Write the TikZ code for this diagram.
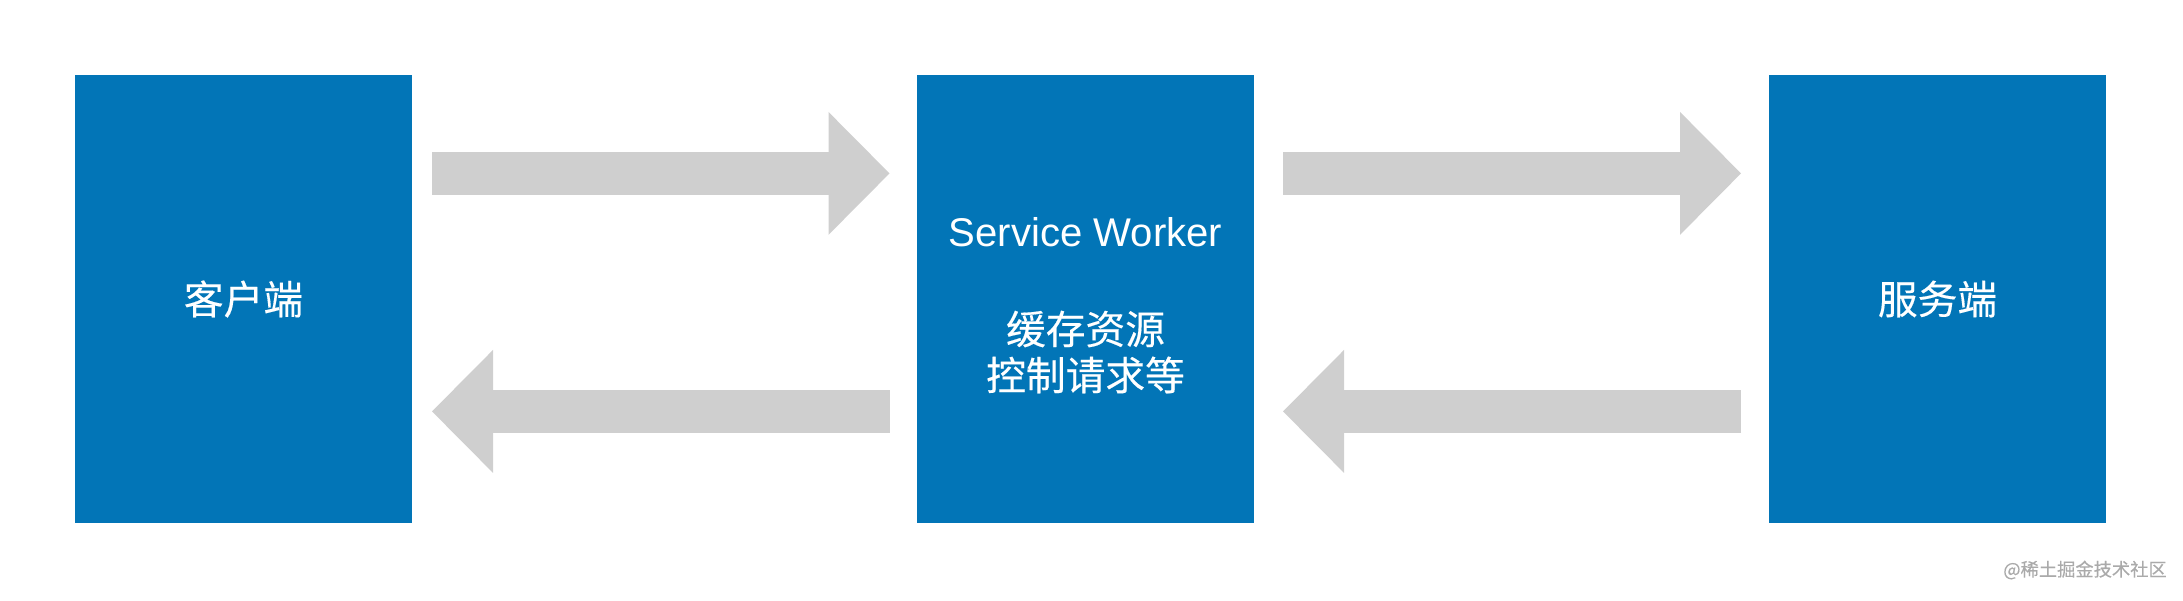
\documentclass[tikz,border=0pt]{standalone}
\usepackage{fontspec}
\setmainfont{Liberation Sans}
\newfontfamily\cjk[FakeBold=0.3]{Noto Sans CJK SC}
\usepackage{tikz}
\usetikzlibrary{arrows.meta,calc,positioning}
\definecolor{boxblue}{RGB}{2,117,183}
\definecolor{arrowgray}{RGB}{207,207,207}
\definecolor{markgray}{RGB}{170,170,170}

\begin{document}
\begin{tikzpicture}[
  block/.style={fill=boxblue, minimum width=3.37cm, minimum height=4.48cm, inner sep=0pt, outer sep=0pt, text=white, font=\cjk\fontsize{11.3}{13.5}\selectfont},
  flow/.style={draw=arrowgray, line width=4.24mm, -{Triangle[length=6.1mm,width=12.25mm,line width=0.6pt]}},
  txt/.style={text=white, inner sep=0pt}
]
\useasboundingbox (0,0) rectangle (21.83,6);
\node[block] (client) at (2.435,3.01) {\raisebox{-0.5mm}{客户端}};
\node[block, right=5.05cm of client] (sw) {};
\node[block, right=5.15cm of sw] (server) {\raisebox{-0.5mm}{服务端}};
\node[txt, anchor=base, font=\fontsize{11.4}{13}\selectfont] (swname) at ($(sw.center)+(0,0.53)$) {Service Worker};
\node[txt, font=\cjk\fontsize{11.3}{13}\selectfont] (swjob1) at ($(sw.center)+(0,-0.30)$) {缓存资源};
\node[txt, font=\cjk\fontsize{11.3}{13}\selectfont] (swjob2) at ($(sw.center)+(0,-0.76)$) {控制请求等};
\draw[flow] ($(client.east)+(0.2,1.256)$) -- ($(sw.west)+(-0.275,1.256)$);
\draw[flow] ($(sw.west)+(-0.275,-1.124)$) -- ($(client.east)+(0.2,-1.124)$);
\draw[flow] ($(sw.east)+(0.29,1.256)$) -- ($(server.west)+(-0.28,1.256)$);
\draw[flow] ($(server.west)+(-0.28,-1.124)$) -- ($(sw.east)+(0.29,-1.124)$);
\node[text=markgray, inner sep=0pt, font=\cjk\fontsize{5.2}{6}\selectfont] (mark) at (20.85,0.30) {@稀土掘金技术社区};
\end{tikzpicture}
\end{document}
